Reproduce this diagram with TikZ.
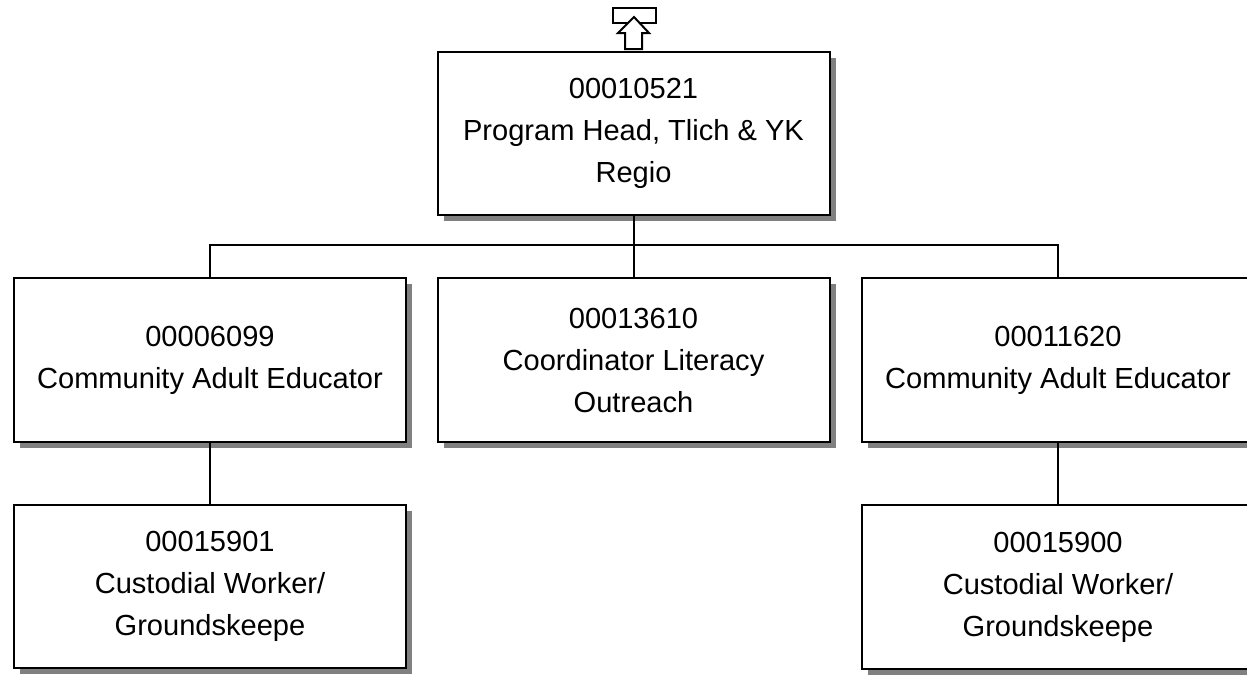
\documentclass[tikz,border=0pt]{standalone}
\usepackage{fontspec}
\setmainfont{Liberation Sans}
\usetikzlibrary{shadows}
\begin{document}
\begin{tikzpicture}[x=0.75pt,y=-0.75pt,
  box/.style={draw=black,line width=1.5pt,fill=white,minimum width=294pt,minimum height=122.5pt,
    inner sep=0pt,align=center,font=\fontsize{21.8}{31.5}\selectfont,
    drop shadow={shadow xshift=4.5pt,shadow yshift=-4.5pt,fill=black!50,opacity=1}},
  link/.style={draw=black,line width=1.5pt}]
\useasboundingbox (0,0) rectangle (1247,675);
\fill[white] (0,0) rectangle (1247,675);
\node[box] (top) at (633.5,133.5) {00010521\\Program Head, Tlich \& YK\\Regio};
\node[box] (c1) at (210,360) {00006099\\Community Adult Educator};
\node[box] (c2) at (633.5,360) {00013610\\Coordinator Literacy\\Outreach};
\node[box] (c3) at (1058,360) {00011620\\Community Adult Educator};
\node[box] (b1) at (210,586.5) {00015901\\Custodial Worker/\\Groundskeepe};
\node[box] (b3) at (1058,587) {00015900\\Custodial Worker/\\Groundskeepe};
\coordinate (bus) at (633.5,245);
\draw[link] (top.south) -- (bus);
\draw[link] (bus) -| (c1.north);
\draw[link] (bus) -- (c2.north);
\draw[link] (bus) -| (c3.north);
\draw[link] (c1.south) -- (b1.north);
\draw[link] (c3.south) -- (b3.north);
% up icon
\draw[line width=1.5pt,fill=white] (613,8) rectangle (656,23);
\draw[line width=1.5pt,fill=white,line join=miter] (634,17) -- (649,33) -- (642,33) -- (642,49) -- (625,49) -- (625,33) -- (618,33) -- cycle;
\end{tikzpicture}
\end{document}
